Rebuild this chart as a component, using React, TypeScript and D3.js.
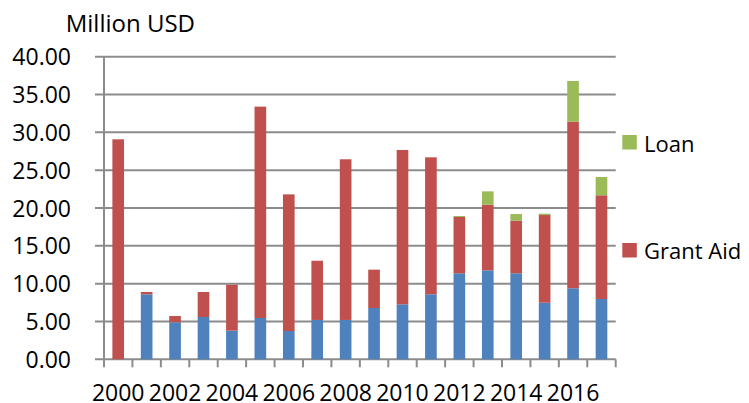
import * as d3 from "d3";

const years = d3.range(2000, 2018).map(String);
const techCoop = [0, 8.59, 4.89, 5.59, 3.78, 5.46, 3.74, 5.2, 5.2, 6.78, 7.27, 8.59, 11.37, 11.76, 11.37, 7.48, 9.39, 7.97];
const grantAid = [29.08, 0.31, 0.83, 3.31, 6.08, 27.94, 18.06, 7.83, 21.24, 5.07, 20.4, 18.11, 7.44, 8.68, 6.95, 11.59, 22.02, 13.71];
const loan = [0, 0, 0, 0, 0, 0, 0, 0, 0, 0, 0, 0, 0.13, 1.76, 0.88, 0.18, 5.38, 2.42];
const yTicks = [0, 5, 10, 15, 20, 25, 30, 35, 40];
const xLabels = ["2000", "2002", "2004", "2006", "2008", "2010", "2012", "2014", "2016"];

const W = 749;
const H = 403;
const PLOT = { left: 104, right: 615.7, top: 56.7, bottom: 359.3 };
const FONT = "'Open Sans', sans-serif";

const seriesColors = { techCoop: "#4F81BD", grantAid: "#C0504D", loan: "#9BBB59" };

export default function App() {
  const x = d3
    .scaleBand<string>()
    .domain(years)
    .range([PLOT.left, PLOT.right])
    .paddingInner(0.59)
    .paddingOuter(0.295);
  const y = d3.scaleLinear().domain([0, 40]).range([PLOT.bottom, PLOT.top]);
  const step = x.step();

  const rows = years.map((yr, i) => ({ yr, techCoop: techCoop[i], grantAid: grantAid[i], loan: loan[i] }));
  const stack = d3.stack<any>().keys(["techCoop", "grantAid", "loan"])(rows);

  return (
    <div style={{ position: "absolute", left: 0, top: 0 }}>
      <svg width={W} height={H} style={{ display: "block", background: "#fff" }}>
        <text x={65.7} y={32.3} fontFamily={FONT} fontSize={24} fill="#000">
          Million USD
        </text>

        {/* gridlines + y ticks */}
        {yTicks.map((t) => (
          <line key={t} x1={PLOT.left - 9} x2={PLOT.right} y1={y(t)} y2={y(t)} stroke="#8c8c8c" strokeWidth={2} />
        ))}
        {yTicks.map((t) => (
          <text key={"l" + t} x={71} y={y(t) + 8.5} textAnchor="end" fontFamily={FONT} fontSize={23} fill="#000">
            {t.toFixed(2)}
          </text>
        ))}

        {/* bars */}
        {stack.map((s) => (
          <g key={s.key} fill={(seriesColors as any)[s.key]}>
            {s.map((d, i) =>
              d[1] - d[0] > 0 ? (
                <rect
                  key={i}
                  x={x(years[i])}
                  y={y(d[1])}
                  width={x.bandwidth()}
                  height={y(d[0]) - y(d[1])}
                />
              ) : null
            )}
          </g>
        ))}

        {/* axes */}
        <line x1={PLOT.left} x2={PLOT.left} y1={PLOT.top} y2={PLOT.bottom} stroke="#8c8c8c" strokeWidth={2} />
        {d3.range(years.length + 1).map((i) => {
          const xx = PLOT.left + i * step;
          return <line key={"t" + i} x1={xx} x2={xx} y1={PLOT.bottom} y2={PLOT.bottom + 8} stroke="#8c8c8c" strokeWidth={2} />;
        })}
        {xLabels.map((lab) => (
          <text
            key={lab}
            x={(x(lab) as number) + x.bandwidth() / 2}
            y={401}
            textAnchor="middle"
            fontFamily={FONT}
            fontSize={23}
            fill="#000"
          >
            {lab}
          </text>
        ))}

        {/* legend */}
        <rect x={622.3} y={135} width={14.5} height={14.5} fill={seriesColors.loan} />
        <text x={644} y={151.5} fontFamily={FONT} fontSize={22} fill="#000">
          Loan
        </text>
        <rect x={622.3} y={243} width={14.5} height={14.5} fill={seriesColors.grantAid} />
        <text x={644} y={258.5} fontFamily={FONT} fontSize={22} fill="#000">
          Grant Aid
        </text>
      </svg>
    </div>
  );
}
